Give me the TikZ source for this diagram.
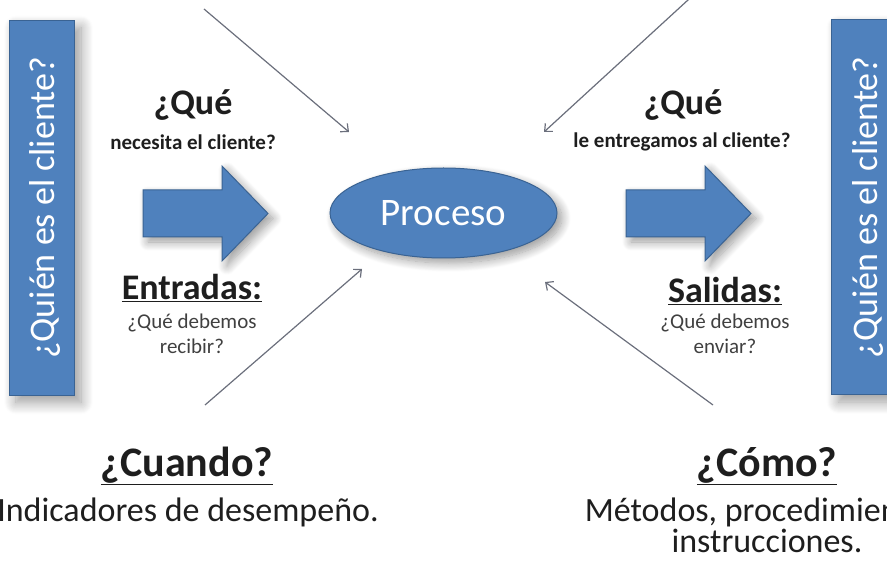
\documentclass[tikz,border=0pt]{standalone}
\usepackage{fontspec}
\setmainfont{Carlito}
\usetikzlibrary{arrows.meta,shadows.blur,shapes.geometric,positioning}
\definecolor{azul}{HTML}{4F81BD}
\definecolor{azulborde}{HTML}{3A6393}
\definecolor{gris}{HTML}{6B6F7C}
\definecolor{texto}{HTML}{1E1E1E}
\tikzset{
    caja/.style={draw=azulborde, line width=1pt, fill=azul, text=white, rotate=90, minimum width=375pt, minimum height=65pt, inner sep=0pt,
        text height=33pt, text depth=7pt, font=\fontsize{36}{40}\selectfont,
        blur shadow={shadow blur steps=12, shadow xshift=7pt, shadow yshift=-7pt, shadow blur radius=12pt}},
    bloque/.style={draw=azulborde, line width=1pt, fill=azul,
        blur shadow={shadow blur steps=12, shadow xshift=5pt, shadow yshift=-5pt, shadow blur radius=9pt}},
    flecha/.style={draw=gris, line width=1.2pt, -{Straight Barb[length=6pt,width=11pt]}},
    titulo/.style={text=texto, font=\bfseries\fontsize{36}{38}\selectfont, inner sep=0pt},
    pregunta/.style={text=texto, font=\bfseries\fontsize{21}{24}\selectfont, inner sep=0pt},
    nota/.style={text=texto!85, font=\fontsize{21}{25}\selectfont, align=center, inner sep=0pt},
    grande/.style={text=texto, font=\bfseries\fontsize{42}{44}\selectfont, inner sep=0pt},
    linea/.style={text=texto, font=\fontsize{34}{31}\selectfont, align=center, inner sep=0pt}
}
\begin{document}
\begin{tikzpicture}[x=1pt,y=-1pt]
    \useasboundingbox (0,0) rectangle (887,569);
    \clip (0,0) rectangle (887,569);

    % clientes a los lados
    \node[caja] (clienteizq) at (41.5,208) {¿Quién es el cliente?};
    \node[caja] (clienteder) at (864,207.5) {¿Quién es el cliente?};

    % flechas de entrada y salida
    \foreach \dx in {0,483}
        \filldraw[bloque] (143+\dx,190) -- (222+\dx,190) -- (222+\dx,166) -- (268+\dx,213.5) -- (222+\dx,261) -- (222+\dx,237) -- (143+\dx,237) -- cycle;

    % proceso
    \node[ellipse, draw=azulborde, line width=1pt, fill=azul, text=white, minimum width=227pt, minimum height=90pt, inner sep=0pt, font=\fontsize{39}{40}\selectfont,
        blur shadow={shadow blur steps=12, shadow xshift=5pt, shadow yshift=-5pt, shadow blur radius=9pt}] (proc) at (443.5,213) {Proceso};

    % textos de entrada
    \node[titulo] (quein) at (193,105) {¿Qué};
    \node[pregunta] (necesita) at (193,142) {necesita el cliente?};
    \node[titulo] (entradas) at (192,288) {\underline{Entradas:}};
    \node[nota] (recibir) at (192,334) {¿Qué debemos\\recibir?};

    % textos de salida
    \node[titulo] (queout) at (683,105) {¿Qué};
    \node[pregunta] (entregamos) at (682,142) {le entregamos al cliente?};
    \node[titulo] (salidas) at (725,291) {\underline{Salidas:}};
    \node[nota] (enviar) at (725,334) {¿Qué debemos\\enviar?};

    % textos de abajo
    \node[grande] (cuando) at (187,466) {\underline{¿Cuando?}};
    \node[linea] (indicadores) at (188,512) {Indicadores de desempeño.};
    \node[grande] (como) at (767,466) {\underline{¿Cómo?}};
    \node[linea] (metodos) at (767,525) {Métodos, procedimientos,\\instrucciones.};

    % flechas finas hacia el proceso
    \coordinate (a1) at (204,9);   \coordinate (b1) at (349,132);
    \coordinate (a2) at (700,-11); \coordinate (b2) at (544,132);
    \coordinate (a3) at (205,405); \coordinate (b3) at (362,269);
    \coordinate (a4) at (713,405); \coordinate (b4) at (545,282);
    \foreach \i in {1,...,4}
        \draw[flecha] (a\i) -- (b\i);
\end{tikzpicture}
\end{document}
